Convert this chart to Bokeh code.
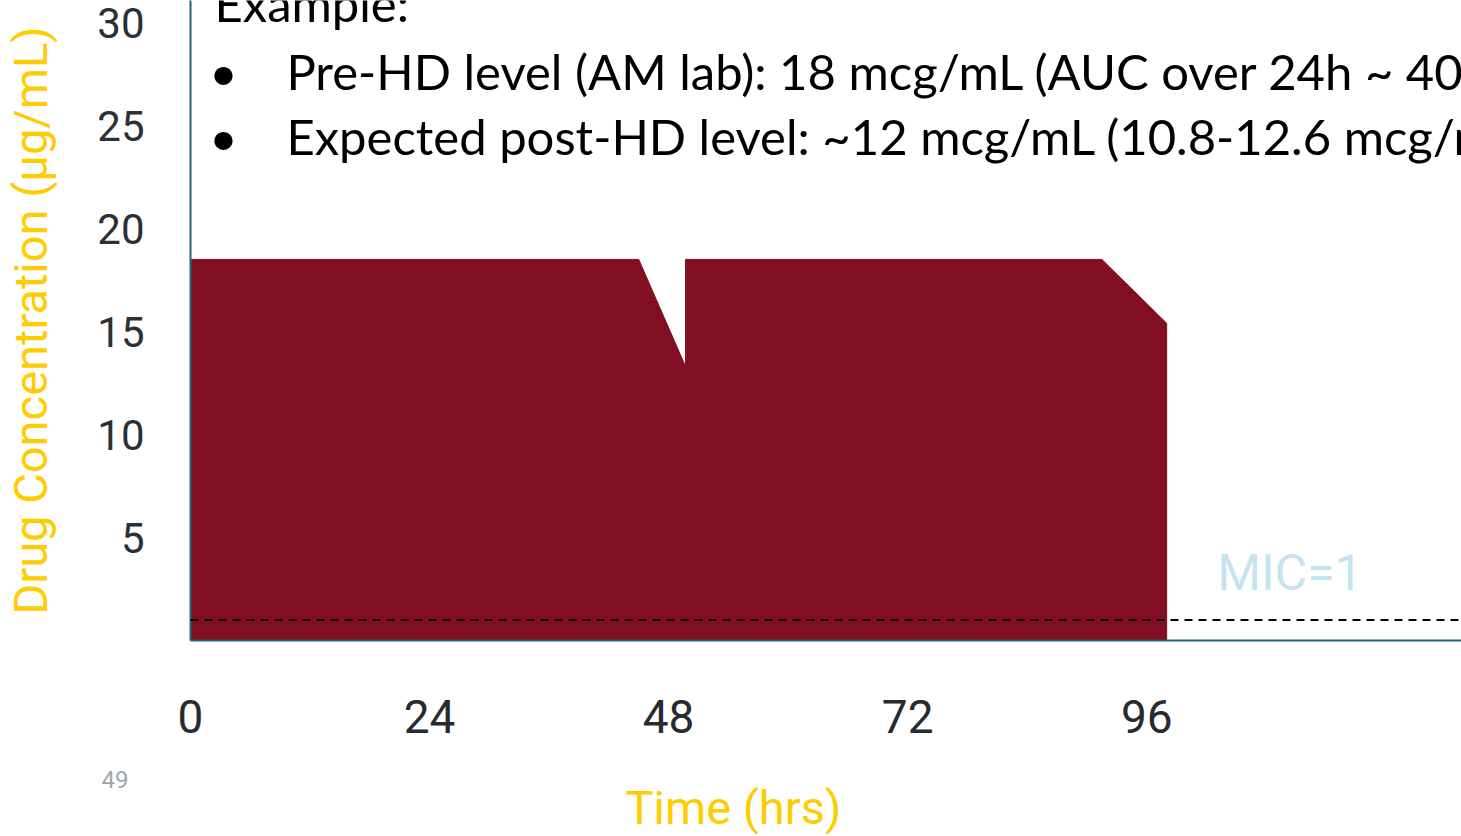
from bokeh.plotting import figure
from bokeh.models import Range1d, FixedTicker, Label, Span, Title
from bokeh.core.properties import value
from bokeh.embed import file_html
from bokeh.resources import INLINE

# Concentration profile across two dosing intervals (hours, µg/mL)
time_hrs = [0, 0, 45, 49.7, 49.7, 91.5, 98, 98]
conc_ugml = [0, 18.5, 18.5, 13.3, 18.5, 18.5, 15.4, 0]

mic_value = 1
x_ticks = [0, 24, 48, 72, 96]
y_ticks = [5, 10, 15, 20, 25, 30]

heading = "Example:"
bullet_lines = [
    "Pre-HD level (AM lab): 18 mcg/mL (AUC over 24h ~ 400",
    "Expected post-HD level: ~12 mcg/mL (10.8-12.6 mcg/mL)",
]

X_END = 127.6
Y_END = 640 / 20.6

AXIS_TEAL = "#1f6870"
YELLOW = "#ffcc00"
MAROON = "#820f21"

p = figure(
    width=1461, height=836,
    x_range=Range1d(0, X_END), y_range=Range1d(0, Y_END),
    output_backend="svg", toolbar_location=None,
    min_border_left=189, min_border_right=0,
    min_border_top=0, min_border_bottom=196,
)
p.outline_line_color = None
p.xgrid.visible = False
p.ygrid.visible = False
p.background_fill_color = "white"
p.border_fill_color = "white"

# shaded concentration area
p.patch(time_hrs, conc_ugml, fill_color=MAROON, line_color=MAROON, line_width=1)

# MIC threshold
p.add_layout(Span(location=mic_value, dimension="width", line_color="black",
                  line_width=2, line_dash="8 6"))
p.add_layout(Label(x=110.4, y=3.3, text=f"MIC={mic_value}", text_font="Roboto",
                   text_font_size="50px", text_color="#c6e3f2",
                   text_align="center", text_baseline="middle"))

# x axis
xa = p.xaxis[0]
xa.ticker = FixedTicker(ticks=x_ticks)
xa.major_tick_line_color = None
xa.minor_tick_line_color = None
xa.axis_line_color = AXIS_TEAL
xa.axis_line_width = 2
xa.major_label_standoff = 53
xa.major_label_text_font = "Roboto"
xa.major_label_text_font_size = "46px"
xa.major_label_text_color = "#262b30"

# y axis
ya = p.yaxis[0]
ya.ticker = FixedTicker(ticks=y_ticks)
ya.major_tick_line_color = None
ya.minor_tick_line_color = None
ya.axis_line_color = AXIS_TEAL
ya.axis_line_width = 2
ya.major_label_standoff = 40
ya.major_label_text_font = "Roboto"
ya.major_label_text_font_size = "42px"
ya.major_label_text_color = "#2b3035"
ya.axis_label = "Drug Concentration (µg/mL)"
ya.axis_label_text_font = "Roboto"
ya.axis_label_text_font_style = "normal"
ya.axis_label_text_font_size = "47px"
ya.axis_label_text_color = YELLOW
ya.axis_label_standoff = 36

# slide number and x title, stacked under the x axis
p.add_layout(Title(text="49", align="left", offset=-89, standoff=67,
                   text_font="Roboto", text_font_style="normal",
                   text_font_size="24px", text_color="#a0a5aa"), "below")
p.add_layout(Title(text="Time (hrs)", align="left", offset=435, standoff=-83,
                   vertical_align="top",
                   text_font="Roboto", text_font_style="normal",
                   text_font_size="47px", text_color=YELLOW), "below")

# example notes at the top
FONT_SIZE = "49px"
p.text(x=[(213 - 189) / 9.97], y=[(640 - 2) / 20.6], text=[heading],
       text_font=value("Lato"), text_font_size=FONT_SIZE, text_color="black",
       text_align="left", text_baseline="middle")
line_y = [(640 - 70) / 20.6, (640 - 135) / 20.6]
p.text(x=[(222 - 189) / 9.97] * 2, y=line_y, text=["•", "•"],
       text_font=value("Lato"), text_font_size=FONT_SIZE, text_color="black",
       text_align="center", text_baseline="middle")
p.text(x=[(285 - 189) / 9.97] * 2, y=line_y, text=bullet_lines,
       text_font=value("Lato"), text_font_size=FONT_SIZE, text_color="black",
       text_align="left", text_baseline="middle")

open("out.html", "w").write(file_html(p, INLINE))
